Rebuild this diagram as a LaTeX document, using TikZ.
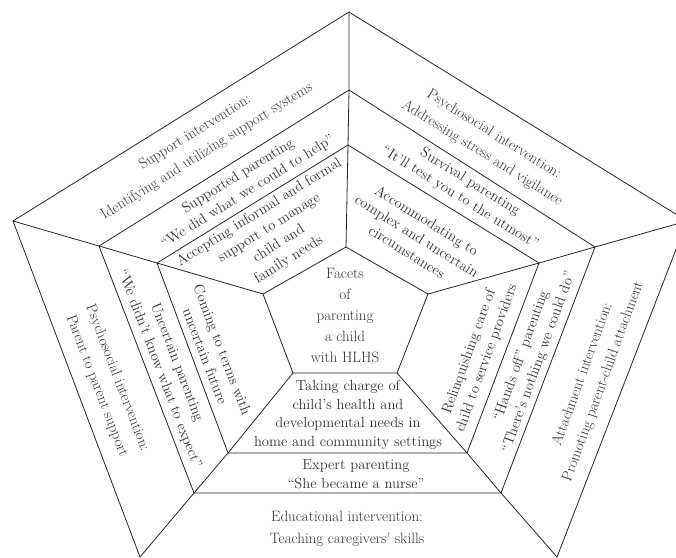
\documentclass[tikz,border=0pt]{standalone}
\begin{document}
\begin{tikzpicture}[x=1pt,y=-1pt]
\tikzset{
  txtbase/.style={align=center, inner sep=0pt, text=black!80},
  ptxt/.style={txtbase, font=\fontsize{14.6}{18.5}\selectfont},
  itxt/.style={txtbase, font=\fontsize{15}{22}\selectfont},
  ctxt/.style={txtbase, font=\fontsize{15}{21}\selectfont},
  ln/.style={draw=black!85, line width=0.8pt, line join=miter}
}
\useasboundingbox (0,0) rectangle (676,557);
\clip (0,0) rectangle (676,557);
% outer
\coordinate (T1) at (349,12);  \coordinate (L1) at (13,221);  \coordinate (R1) at (687,221);
\coordinate (BL1) at (140,557); \coordinate (BR1) at (557,557);
% middle
\coordinate (T2) at (349,90);  \coordinate (L2) at (99,246);  \coordinate (R2) at (595,247);
\coordinate (BL2) at (194,493); \coordinate (BR2) at (501,493);
% third
\coordinate (T3) at (348,145); \coordinate (L3) at (157,263); \coordinate (R3) at (539,263);
\coordinate (BL3) at (228,453); \coordinate (BR3) at (467,453);
% inner
\coordinate (T4) at (346,247); \coordinate (L4) at (263,294); \coordinate (R4) at (428,294);
\coordinate (BL4) at (293,373); \coordinate (BR4) at (397,373);

\draw[ln] (BL1) -- (L1) -- (T1) -- (R1) -- (BR1);
\draw[ln] (T2) -- (R2) -- (BR2) -- (BL2) -- (L2) -- cycle;
\draw[ln] (T3) -- (R3) -- (BR3) -- (BL3) -- (L3) -- cycle;
\draw[ln] (T4) -- (R4) -- (BR4) -- (BL4) -- (L4) -- cycle;
\draw[ln] (T4) -- (T3) -- (T2) -- (T1);
\draw[ln] (L4) -- (L3) -- (L2) -- (L1);
\draw[ln] (R4) -- (R3) -- (R2) -- (R1);
\draw[ln] (BL4) -- (BL3) -- (BL2) -- (BL1);
\draw[ln] (BR4) -- (BR3) -- (BR2) -- (BR1);

\node[itxt, rotate=32] (tlo) at (201,142) {Support intervention:\\Identifying and utilizing support systems};
\node[ptxt, rotate=32] (tlm) at (243,184) {Supported parenting\\“We did what we could to help”};
\node[ptxt, rotate=32] (tli) at (274,236) {Accepting informal and formal\\support to manage\\child and\\family needs};
\node[itxt, rotate=-32] (tro) at (488,144) {Psychosocial intervention:\\Addressing stress and vigilance};
\node[ptxt, rotate=-32] (trm) at (465,190) {Survival parenting\\“It’ll test you to the utmost”};
\node[ptxt, rotate=-32] (tri) at (417,236) {Accommodating to\\complex and uncertain\\circumstances};
\node[itxt, rotate=70] (ro) at (593,378) {Attachment intervention:\\Promoting parent-child attachment};
\node[ptxt, rotate=70] (rm) at (530,359) {“Hands off” parenting\\“There’s nothing we could do”};
\node[ptxt, rotate=70] (ri) at (478,355) {Relinquishing care of\\child to service providers};
\node[itxt, rotate=-69] (lo) at (107,382) {Psychosocial intervention:\\Parent to parent support};
\node[ptxt, rotate=-69] (lm) at (168,366) {Uncertain parenting\\“We didn’t know what to expect”};
\node[ptxt, rotate=-69] (li) at (214,353) {Coming to terms with\\uncertain future};
\node[itxt] (bo) at (347,529) {Educational intervention:\\Teaching caregivers’ skills};
\node[ptxt] (bm) at (356,474) {Expert parenting\\“She became a nurse”};
\node[ptxt] (bi) at (348,415) {Taking charge of\\child’s health and\\developmental needs in\\home and community settings};
\node[ctxt] (c) at (345,316) {Facets\\of\\parenting\\a child\\with HLHS};
\end{tikzpicture}
\end{document}
